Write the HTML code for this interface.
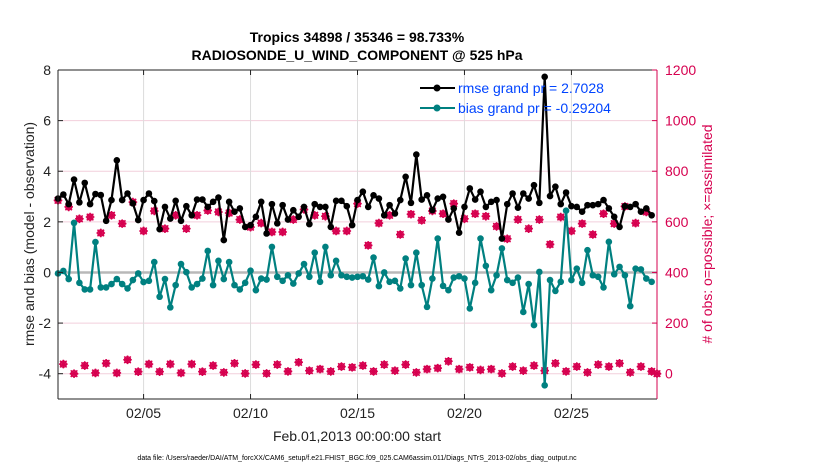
<!DOCTYPE html>
<html><head><meta charset="utf-8"><style>
body{margin:0;background:#fff}
svg text{font-family:"Liberation Sans",sans-serif}
</style></head><body>
<svg id="chart" width="830" height="470" xmlns="http://www.w3.org/2000/svg">
<rect width="830" height="470" fill="#fff"/>
<g id="grid"></g><g id="marks"></g><g id="axes"></g>
<text x="357" y="42" font-size="14" font-weight="bold" text-anchor="middle">Tropics 34898 / 35346 = 98.733%</text>
<text x="357" y="60" font-size="14" font-weight="bold" text-anchor="middle">RADIOSONDE_U_WIND_COMPONENT @ 525 hPa</text>
<text x="357" y="441" font-size="14" text-anchor="middle" fill="#222">Feb.01,2013 00:00:00 start</text>
<text x="357" y="460" font-size="7" text-anchor="middle">data file: /Users/raeder/DAI/ATM_forcXX/CAM6_setup/f.e21.FHIST_BGC.f09_025.CAM6assim.011/Diags_NTrS_2013-02/obs_diag_output.nc</text>
<text transform="translate(34,234) rotate(-90)" font-size="14" text-anchor="middle" fill="#222">rmse and bias (model - observation)</text>
<text transform="translate(712,234) rotate(-90)" font-size="14" text-anchor="middle" fill="#d6004f"># of obs: o=possible; ×=assimilated</text>
<g>
<line x1="420" y1="88" x2="455" y2="88" stroke="#000" stroke-width="2"/><circle cx="437" cy="88" r="3.5" fill="#000"/>
<text x="458" y="93" font-size="14" fill="#0044ff">rmse grand pr = 2.7028</text>
<line x1="420" y1="108" x2="455" y2="108" stroke="#008080" stroke-width="2"/><circle cx="437" cy="108" r="3.5" fill="#008080"/>
<text x="458" y="113" font-size="14" fill="#0044ff">bias grand pr = -0.29204</text>
</g>
</svg>
<script>
const rmse=[2.92,3.08,2.70,3.67,2.77,3.54,2.70,3.10,3.06,2.04,2.86,4.43,2.86,3.12,2.73,2.07,2.86,3.12,2.82,1.71,2.59,2.13,2.83,2.04,2.62,2.26,2.88,2.88,
2.59,2.79,2.96,1.28,2.79,2.40,2.53,1.80,1.87,2.20,2.79,1.54,2.70,1.94,2.66,2.09,2.46,2.20,2.59,1.91,2.70,2.59,2.59,1.80,2.83,2.83,2.62,1.87,
2.86,3.19,2.59,3.05,2.92,2.26,2.66,2.33,2.86,3.78,2.75,4.66,2.88,3.05,2.46,2.92,2.99,2.09,2.53,1.57,2.59,3.32,2.88,3.19,2.59,2.79,2.86,1.34,2.70,
3.12,2.56,3.12,2.92,3.45,2.75,7.73,3.02,3.39,2.70,3.16,2.62,2.59,2.40,2.66,2.66,2.70,2.86,2.53,2.20,1.80,2.62,2.59,2.70,2.40,2.53,2.26];
const bias=[-0.04,0.06,-0.26,1.96,-0.41,-0.67,-0.67,1.20,-0.59,-0.59,-0.46,-0.26,-0.46,-0.63,-0.30,-0.04,-0.38,-0.33,0.41,-0.96,-0.26,-1.38,-0.50,0.33,0.01,-0.59,-0.46,-0.24,
0.85,-0.50,0.46,-0.26,0.41,-0.50,-0.67,-0.41,0.07,-0.70,-0.24,-0.28,1.01,-0.17,-0.33,-0.11,-0.44,-0.04,0.33,-0.17,0.78,-0.37,1.01,-0.11,0.46,-0.11,-0.17,-0.20,
-0.17,-0.15,-0.28,0.59,-0.54,0.0,-0.37,-0.33,-0.63,0.55,-0.50,0.78,-0.50,-1.36,-0.24,1.34,-0.53,-0.70,-0.20,-0.15,-0.24,-1.42,-0.41,1.34,0.26,-0.70,-0.11,0.95,-0.30,
-0.41,-0.20,-1.56,-0.46,-2.08,0.02,-4.46,-0.30,-0.73,-0.37,2.44,-0.30,0.15,-0.41,0.88,-0.11,-0.17,-0.59,1.21,-0.07,0.22,-0.11,-1.33,0.15,0.12,-0.24,-0.37];
const obsPossible=[685,38,659,0,612,32,619,3,556,41,626,3,593,55,678,8,564,38,643,8,573,38,626,3,573,38,626,8,
645,32,639,5,635,41,609,1,579,36,595,1,560,36,560,9,609,45,649,12,626,18,622,9,564,28,564,25,
672,32,507,9,595,36,626,12,550,36,630,5,606,18,643,22,632,49,672,18,612,25,632,15,622,18,582,1,
533,28,609,12,573,32,609,12,511,41,619,9,564,28,593,5,550,36,632,28,593,41,661,5,595,28,639,9,0];
const obsAssim=obsPossible.slice();
const leftTicks=[8,6,4,2,0,-2,-4];
const rightTicks=[1200,1000,800,600,400,200,0];
const dateTicks=[4,9,14,19,24];
const dateLabels=["02/05","02/10","02/15","02/20","02/25"];
const stepDays=0.25;

const X0=58,X1=657,Y0=70,Y1=399;
const xs=d=>X0+(d/28)*(X1-X0);
const yl=v=>Y1-(v+5)/13*(Y1-Y0);
const yr=v=>Y1-(v+100)/1300*(Y1-Y0);
const NS="http://www.w3.org/2000/svg";
function mk(tag,attrs,parent){const e=document.createElementNS(NS,tag);for(const k in attrs)e.setAttribute(k,attrs[k]);parent.appendChild(e);return e;}
const grid=document.getElementById('grid'),marks=document.getElementById('marks'),axes=document.getElementById('axes');
leftTicks.forEach(t=>{if(t!==0){const l=mk('line',{x1:X0,x2:X1,y1:yl(t),y2:yl(t),stroke:'#f2cfdc','stroke-width':1},grid);

}});
dateTicks.forEach(d=>{const l=mk('line',{x1:xs(d),x2:xs(d),y1:Y0,y2:Y1,stroke:'#dcdcdc','stroke-width':1},grid);

});
const zl=mk('line',{x1:X0,x2:X1,y1:yl(0),y2:yl(0),stroke:'#b8b8b8','stroke-width':2.5},grid);


obsPossible.forEach((v,i)=>{const cx=xs(i*stepDays),cy=yr(v);
const c=mk('circle',{cx:cx,cy:cy,r:3,fill:'none',stroke:'#d6004f','stroke-width':1.4},marks);

});
obsAssim.forEach((v,i)=>{const cx=xs(i*stepDays),cy=yr(v),s=3.3;
const p=mk('path',{d:`M${cx-s},${cy-s}L${cx+s},${cy+s}M${cx-s},${cy+s}L${cx+s},${cy-s}M${cx},${cy-s-1}L${cx},${cy+s+1}M${cx-s-1},${cy}L${cx+s+1},${cy}`,stroke:'#d6004f','stroke-width':1.5,fill:'none'},marks);

});
function series(arr,color,name){
 const pts=arr.map((v,i)=>xs(i*stepDays)+','+yl(v)).join(' ');
 const pl=mk('polyline',{points:pts,fill:'none',stroke:color,'stroke-width':2.2,'stroke-linejoin':'round'},marks);
 
 
 arr.forEach((v,i)=>{const c=mk('circle',{cx:xs(i*stepDays),cy:yl(v),r:3.3,fill:color},marks);
 
 });
}
series(bias,'#008080','bias');
series(rmse,'#000000','rmse');
mk('line',{x1:X0,x2:X1,y1:Y0,y2:Y0,stroke:'#222','stroke-width':1},axes);
mk('line',{x1:X0,x2:X1,y1:Y1,y2:Y1,stroke:'#222','stroke-width':1},axes);
mk('line',{x1:X0,x2:X0,y1:Y0,y2:Y1,stroke:'#222','stroke-width':1},axes);
mk('line',{x1:X1,x2:X1,y1:Y0,y2:Y1,stroke:'#d6004f','stroke-width':1},axes);
leftTicks.forEach(t=>{mk('line',{x1:X0,x2:X0+5,y1:yl(t),y2:yl(t),stroke:'#222'},axes);
const tx=mk('text',{x:X0-7,y:yl(t)+5,'font-size':14,'text-anchor':'end',fill:'#222'},axes);tx.textContent=t;

});
rightTicks.forEach(t=>{mk('line',{x1:X1-5,x2:X1,y1:yr(t),y2:yr(t),stroke:'#d6004f'},axes);
const tx=mk('text',{x:X1+8,y:yr(t)+5,'font-size':14,'text-anchor':'start',fill:'#d6004f'},axes);tx.textContent=t;

});
dateTicks.forEach((d,k)=>{mk('line',{x1:xs(d),x2:xs(d),y1:Y1,y2:Y1-5,stroke:'#222'},axes);mk('line',{x1:xs(d),x2:xs(d),y1:Y0,y2:Y0+5,stroke:'#222'},axes);
const tx=mk('text',{x:xs(d),y:Y1+19,'font-size':14,'text-anchor':'middle',fill:'#222'},axes);tx.textContent=dateLabels[k];

});
</script>
</body></html>
